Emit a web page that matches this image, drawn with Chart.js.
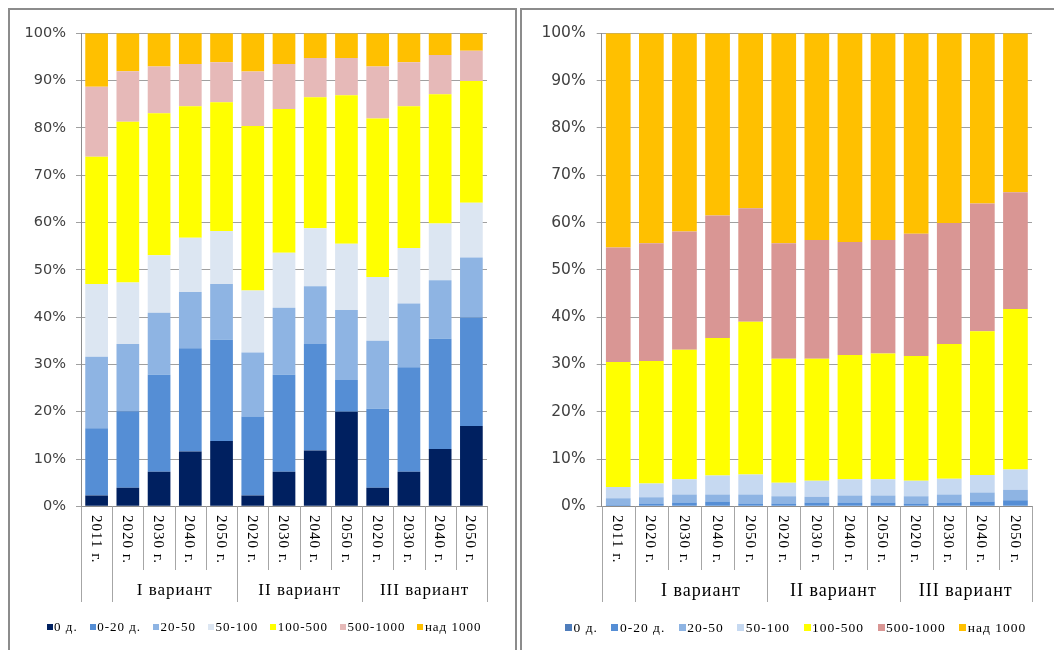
<!DOCTYPE html>
<html><head><meta charset="utf-8">
<script src="https://cdn.jsdelivr.net/npm/chart.js@4"></script>
<style>
html,body{margin:0;padding:0;width:1054px;height:650px;overflow:hidden;background:#fff;}
.panel{position:absolute;top:8px;height:700px;border:2px solid #8c8c8c;box-sizing:border-box;background:#fff;}
#p1{left:8px;width:509px;}
#p2{left:520px;width:600px;}
canvas{position:absolute;}
#c1{left:10px;top:11px;}
#c2{left:523px;top:11px;}
</style></head>
<body>
<div class="panel" id="p1"></div><div class="panel" id="p2"></div>
<canvas id="c1" width="504" height="639"></canvas>
<canvas id="c2" width="544" height="639"></canvas>
<script>
// ---- data ----
const years = ['2011 г.','2020 г.','2030 г.','2040 г.','2050 г.','2020 г.','2030 г.','2040 г.','2050 г.','2020 г.','2030 г.','2040 г.','2050 г.'];
const groupLabels = ['', 'I вариант', 'II вариант', 'III вариант'];
const groupSizes = [1, 4, 4, 4];
const seriesNames = ['0 д.', '0-20 д.', '20-50', '50-100', '100-500', '500-1000', 'над 1000'];
const yTicks = [0,10,20,30,40,50,60,70,80,90,100];

// left chart: share of settlements (%)
const L_0 = [2.3, 3.9, 7.3, 11.6, 13.8, 2.3, 7.3, 11.8, 20.0, 3.9, 7.3, 12.1, 17.0];
const L_0_20 = [14.2, 16.2, 20.5, 21.8, 21.4, 16.7, 20.5, 22.5, 6.7, 16.7, 22.1, 23.3, 22.9];
const L_20_50 = [15.1, 14.2, 13.1, 11.9, 11.8, 13.5, 14.2, 12.2, 14.8, 14.4, 13.5, 12.4, 12.7];
const L_50_100 = [15.4, 13.0, 12.2, 11.5, 11.2, 13.1, 11.6, 12.3, 14.0, 13.5, 11.7, 12.0, 11.6];
const L_100_500 = [26.9, 34.0, 30.0, 27.8, 27.2, 34.8, 30.4, 27.7, 31.4, 33.5, 30.0, 27.3, 25.7];
const L_500_1000 = [14.8, 10.7, 9.9, 8.9, 8.5, 11.5, 9.5, 8.3, 7.9, 11.0, 9.3, 8.3, 6.4];
const L_1000 = [11.3, 8.0, 7.0, 6.5, 6.1, 8.1, 6.5, 5.2, 5.2, 7.0, 6.1, 4.6, 3.7];

// right chart: share of population (%)
const R_0 = [0.1, 0.1, 0.1, 0.1, 0.1, 0.1, 0.1, 0.1, 0.1, 0.1, 0.1, 0.1, 0.1];
const R_0_20 = [0.2, 0.5, 0.7, 0.9, 0.5, 0.5, 0.7, 0.7, 0.7, 0.5, 0.7, 0.9, 1.2];
const R_20_50 = [1.4, 1.3, 1.7, 1.5, 1.9, 1.5, 1.2, 1.5, 1.5, 1.5, 1.7, 1.9, 2.2];
const R_50_100 = [2.4, 2.9, 3.2, 4.0, 4.2, 2.9, 3.4, 3.4, 3.4, 3.3, 3.3, 3.7, 4.3];
const R_100_500 = [26.4, 25.9, 27.4, 29.1, 32.3, 26.2, 25.8, 26.3, 26.6, 26.4, 28.5, 30.4, 33.9];
const R_500_1000 = [24.2, 24.9, 25.0, 25.9, 24.0, 24.4, 25.1, 23.9, 24.0, 25.8, 25.6, 27.0, 24.7];
const R_1000 = [45.3, 44.4, 41.9, 38.5, 37.0, 44.4, 43.7, 44.1, 43.7, 42.4, 40.1, 36.0, 33.6];

const leftColors = ['#002060','#558ED5','#8EB4E3','#DCE6F2','#FFFF00','#E6B9B8','#FFC000'];
const rightColors = ['#4F7DBB','#558ED5','#8EB4E3','#C6D9F1','#FFFF00','#D99694','#FFC000'];

const SERIF = "'Liberation Serif','Times New Roman',serif";
const SANS = "'DejaVu Sans',Verdana,sans-serif";

function makeChart(id, series, colors, cfg) {
  const datasets = series.map((vals, i) => ({
    label: seriesNames[i], data: vals, backgroundColor: colors[i],
    borderWidth: 0, barPercentage: cfg.barPct, categoryPercentage: 1, stack: 's'
  }));
  const labelPlugin = {
    id: 'cats' + id,
    afterDraw(chart) {
      const ctx = chart.ctx, xs = chart.scales.x, area = chart.chartArea;
      const step = xs.getPixelForValue(1) - xs.getPixelForValue(0);
      ctx.save();
      // separators
      ctx.strokeStyle = '#a6a6a6'; ctx.lineWidth = 1;
      const groupStarts = [];
      let acc = 0; groupSizes.forEach(s => { groupStarts.push(acc); acc += s; }); groupStarts.push(acc);
      for (let i = 0; i <= years.length; i++) {
        const x = Math.round(xs.getPixelForValue(i) - step / 2) + 0.5;
        const isGroup = groupStarts.includes(i);
        ctx.beginPath(); ctx.moveTo(x, area.bottom);
        ctx.lineTo(x, isGroup ? cfg.groupBottom : cfg.yearBottom); ctx.stroke();
      }
      // year labels, rotated to read downward
      ctx.fillStyle = '#000'; ctx.font = cfg.yearFont; ctx.letterSpacing = cfg.yearLS;
      ctx.textAlign = 'left'; ctx.textBaseline = 'middle';
      years.forEach((t, i) => {
        ctx.save();
        ctx.translate(xs.getPixelForValue(i) - 1, cfg.yearTop);
        ctx.rotate(Math.PI / 2);
        ctx.fillText(t, 0, 0);
        ctx.restore();
      });
      // group labels
      ctx.font = cfg.groupFont; ctx.letterSpacing = cfg.groupLS; ctx.textAlign = 'center';
      groupLabels.forEach((g, gi) => {
        if (!g) return;
        const a = groupStarts[gi], b = groupStarts[gi + 1] - 1;
        const cx = (xs.getPixelForValue(a) + xs.getPixelForValue(b)) / 2;
        ctx.fillText(g, cx, cfg.groupY);
      });
      // legend
      ctx.font = cfg.legendFont; ctx.letterSpacing = cfg.legendLS;
      ctx.textAlign = 'left';
      const items = datasets.map(d => ({ t: d.label, c: d.backgroundColor, w: ctx.measureText(d.label).width }));
      const total = items.reduce((s, it) => s + cfg.box + cfg.boxGap + it.w, 0) + cfg.itemGap * (items.length - 1);
      let x = cfg.legendCenter - total / 2;
      items.forEach(it => {
        ctx.fillStyle = it.c;
        ctx.fillRect(Math.round(x), Math.round(cfg.legendY - cfg.box / 2), cfg.box, cfg.box);
        x += cfg.box + cfg.boxGap;
        ctx.fillStyle = '#000';
        ctx.fillText(it.t, x, cfg.legendY + 1);
        x += it.w + cfg.itemGap;
      });
      ctx.restore();
    }
  };
  return new Chart(document.getElementById(id), {
    type: 'bar',
    data: { labels: years, datasets },
    options: {
      responsive: false, animation: false, devicePixelRatio: 1,
      layout: { padding: { top: cfg.top, right: cfg.right, bottom: 0, left: 0 } },
      plugins: { legend: { display: false }, tooltip: { enabled: false } },
      scales: {
        x: {
          stacked: true,
          grid: { display: false },
          border: { display: true, color: '#8c8c8c' },
          ticks: { display: false },
          afterFit(s) { s.height = cfg.xHeight; }
        },
        y: {
          stacked: true, min: 0, max: 100,
          afterBuildTicks(s) { s.ticks = yTicks.map(v => ({ value: v })); },
          ticks: { callback: v => v + '%', color: '#404040', font: { family: SANS, size: cfg.yFontSize }, padding: cfg.yPad },
          grid: { color: '#a0a0a0', tickLength: 5, tickColor: '#a0a0a0' },
          border: { display: true, color: '#8c8c8c' },
          afterFit(s) { s.width = cfg.yWidth; }
        }
      }
    },
    plugins: [labelPlugin]
  });
}

makeChart('c1', [L_0, L_0_20, L_20_50, L_50_100, L_100_500, L_500_1000, L_1000], leftColors, {
  barPct: 0.727, top: 22.3, right: 27, xHeight: 143.7, yWidth: 71, yFontSize: 14.5, yPad: 10,
  yearFont: '15px ' + SERIF, yearLS: '1px', yearTop: 504, yearBottom: 559, groupBottom: 591,
  groupFont: '17px ' + SERIF, groupLS: '1px', groupY: 580,
  legendFont: '13px ' + SERIF, legendLS: '1px', legendY: 616, legendCenter: 254,
  box: 6, boxGap: 1.5, itemGap: 12
});
makeChart('c2', [R_0, R_0_20, R_20_50, R_50_100, R_100_500, R_500_1000, R_1000], rightColors, {
  barPct: 0.746, top: 22.3, right: 35, xHeight: 143.7, yWidth: 78.7, yFontSize: 15.5, yPad: 11,
  yearFont: '15px ' + SERIF, yearLS: '1px', yearTop: 504, yearBottom: 559, groupBottom: 591,
  groupFont: '18px ' + SERIF, groupLS: '1px', groupY: 580,
  legendFont: '13.5px ' + SERIF, legendLS: '1px', legendY: 616, legendCenter: 272.7,
  box: 7, boxGap: 1.5, itemGap: 13.5
});
</script>
</body></html>
